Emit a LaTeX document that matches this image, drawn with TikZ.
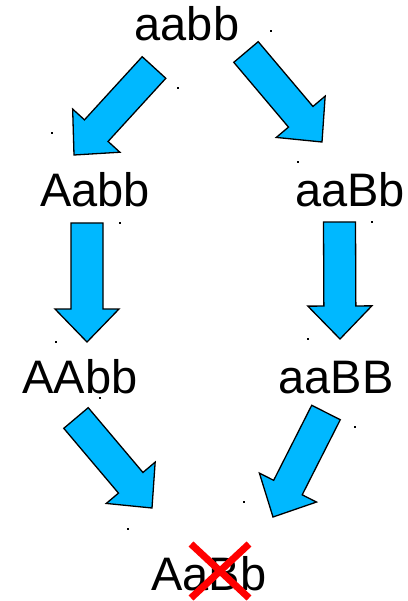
\documentclass[tikz,border=0pt]{standalone}
\usepackage{fontspec}
\setmainfont{Liberation Sans}
\usetikzlibrary{calc}
\definecolor{arrowblue}{RGB}{0,184,255}

\begin{document}
\begin{tikzpicture}[x=1pt,y=-1pt]
\tikzset{
  genotype/.style={font=\fontsize{47}{56}\selectfont, inner sep=0pt, anchor=base},
  bigarrow/.style={draw=black, fill=arrowblue, line width=1.3pt, to path={
    let \p1=(\tikztostart), \p2=(\tikztotarget), \n1={atan2(\y2-\y1,\x2-\x1)} in
    ($(\p1)+(\n1+90:16pt)$) -- ($(\p2)+(\n1+180:33pt)+(\n1+90:16pt)$)
    -- ($(\p2)+(\n1+180:33pt)+(\n1+90:32pt)$) -- (\p2)
    -- ($(\p2)+(\n1+180:33pt)+(\n1-90:32pt)$) -- ($(\p2)+(\n1+180:33pt)+(\n1-90:16pt)$)
    -- ($(\p1)+(\n1-90:16pt)$) -- cycle}},
  cross/.style={red, line width=7pt}
}
\useasboundingbox (0,0) rectangle (407,601);

% Genotypes
\node[genotype] (aabb) at (187,41) {aabb};
\node[genotype] (Aabb) at (95,207) {Aabb};
\node[genotype] (aaBb) at (350,207) {aaBb};
\node[genotype] (AAbb) at (80,393) {AAbb};
\node[genotype] (aaBB) at (336,393) {aaBB};
\node[genotype] (AaBb) at (209,590) {AaBb};

% Arrow ends
\coordinate (s1) at (154,67.5);  \coordinate (e1) at (74,155);
\coordinate (s2) at (246,52);    \coordinate (e2) at (322,142);
\coordinate (s3) at (87,223);    \coordinate (e3) at (87,342);
\coordinate (s4) at (339.5,222); \coordinate (e4) at (340,339);
\coordinate (s5) at (76,418);    \coordinate (e5) at (152,508);
\coordinate (s6) at (326,412.5); \coordinate (e6) at (273,517);

% Arrows
\draw[bigarrow] (s1) to (e1);
\draw[bigarrow] (s2) to (e2);
\draw[bigarrow] (s3) to (e3);
\draw[bigarrow] (s4) to (e4);
\draw[bigarrow] (s5) to (e5);
\draw[bigarrow] (s6) to (e6);

% Crossed out
\coordinate (c1) at (191,544); \coordinate (c2) at (249,598);
\coordinate (c3) at (249,544); \coordinate (c4) at (191,598);
\draw[cross] (c1) -- (c2);
\draw[cross] (c3) -- (c4);

% Stray dots
\foreach \x/\y in {271/31, 178/88, 52/133, 298/162, 120/223, 372/222, 56/342,
  308/339, 100/398, 355/427, 244/502, 128/529}
  \fill (\x-1,\y-1) rectangle (\x+1,\y+1);

\end{tikzpicture}
\end{document}
